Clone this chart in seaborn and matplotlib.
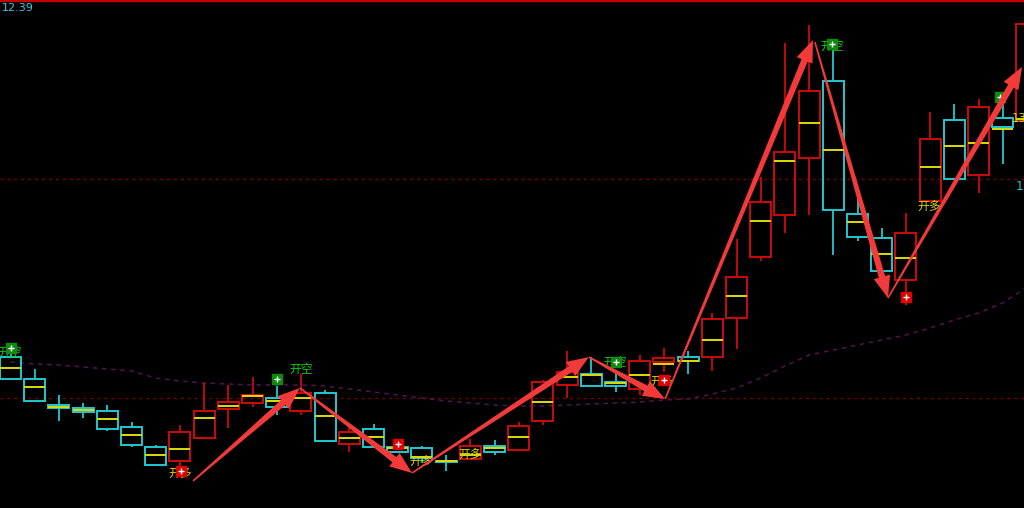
import numpy as np
import pandas as pd
import matplotlib
matplotlib.use("Agg")
import matplotlib.pyplot as plt
from matplotlib.patches import Polygon
from matplotlib.transforms import IdentityTransform
import seaborn as sns

# OHLC, one entry per candle
opens = [11.676, 11.632, 11.579, 11.574, 11.568, 11.536, 11.496, 11.468, 11.514, 11.572,
         11.584, 11.594, 11.568, 11.604, 11.502, 11.532, 11.496, 11.494, 11.469, 11.472,
         11.498, 11.490, 11.548, 11.620, 11.642, 11.626, 11.612, 11.666, 11.676, 11.676,
         11.754, 11.876, 11.960, 12.074, 12.228, 11.962, 11.914, 11.830, 11.988, 12.150,
         12.040, 12.154, 12.150]
closes = [11.632, 11.588, 11.575, 11.566, 11.532, 11.500, 11.460, 11.526, 11.568, 11.586,
          11.600, 11.576, 11.604, 11.508, 11.526, 11.496, 11.486, 11.474, 11.467, 11.498,
          11.486, 11.538, 11.626, 11.646, 11.618, 11.618, 11.668, 11.674, 11.668, 11.752,
          11.836, 11.986, 12.086, 12.208, 11.970, 11.916, 11.848, 11.924, 12.112, 12.032,
          12.176, 12.136, 12.342]
highs = [11.686, 11.652, 11.600, 11.584, 11.580, 11.546, 11.500, 11.540, 11.624, 11.620,
         11.636, 11.618, 11.642, 11.610, 11.534, 11.542, 11.512, 11.498, 11.480, 11.512,
         11.510, 11.546, 11.630, 11.688, 11.676, 11.650, 11.680, 11.694, 11.688, 11.764,
         11.912, 12.036, 12.304, 12.340, 12.290, 11.994, 11.934, 11.964, 12.166, 12.182,
         12.192, 12.196, 12.350]
lows = [11.630, 11.586, 11.548, 11.554, 11.528, 11.496, 11.460, 11.444, 11.512, 11.534,
        11.576, 11.560, 11.560, 11.506, 11.486, 11.496, 11.484, 11.464, 11.448, 11.470,
        11.480, 11.490, 11.540, 11.594, 11.618, 11.606, 11.600, 11.646, 11.642, 11.648,
        11.692, 11.868, 11.924, 11.960, 11.880, 11.908, 11.848, 11.780, 11.988, 12.032,
        12.004, 12.062, 12.140]
mids = [11.654, 11.616, 11.577, 11.570, 11.552, 11.520, 11.480, 11.492, 11.554, 11.578,
        11.598, 11.588, 11.594, 11.558, 11.514, 11.516, 11.494, 11.476, 11.468, 11.480,
        11.494, 11.516, 11.586, 11.636, 11.640, 11.624, 11.640, 11.662, 11.668, 11.710,
        11.798, 11.948, 12.068, 12.144, 12.090, 11.946, 11.882, 11.874, 12.056, 12.098,
        12.104, 12.132, 12.152]
ma = [11.666, 11.662, 11.660, 11.656, 11.652, 11.648, 11.634, 11.628, 11.624, 11.622,
      11.620, 11.620, 11.620, 11.618, 11.612, 11.606, 11.600, 11.594, 11.588, 11.584,
      11.580, 11.578, 11.578, 11.580, 11.582, 11.584, 11.586, 11.590, 11.592, 11.602,
      11.614, 11.634, 11.658, 11.680, 11.690, 11.700, 11.710, 11.720, 11.734, 11.750,
      11.764, 11.784, 11.816]

# horizontal reference levels
levels = [12.032, 11.594]

# signal labels: (candle position, price)
short_x = [-0.02, 12.0, 24.98, 33.95]
short_y = [11.686, 11.652, 11.666, 12.298]
short_mark_x = [0.02, 11.01, 25.0, 33.95, 40.89]
short_mark_y = [11.694, 11.632, 11.666, 12.302, 12.196]
long_x = [7.0, 16.96, 18.99, 26.93, 37.95]
long_y = [11.442, 11.466, 11.480, 11.626, 11.976]
long_mark_x = [7.05, 16.01, 27.0, 37.0]
long_mark_y = [11.448, 11.502, 11.630, 11.796]

# trend arrows drawn on the chart
arrow_x0 = [7.54, 11.96, 16.59, 23.90, 27.05, 33.24, 36.26]
arrow_y0 = [11.428, 11.614, 11.444, 11.676, 11.592, 12.306, 11.794]
arrow_x1 = [11.96, 16.59, 23.90, 27.05, 33.16, 36.26, 41.80]
arrow_y1 = [11.614, 11.444, 11.676, 11.592, 12.310, 11.794, 12.256]

df = pd.DataFrame({'Open': opens, 'Close': closes, 'High': highs, 'Low': lows,
                   'Mid': mids, 'MA': ma})
df['Pos'] = np.arange(len(df))

sns.set_style('dark', {'axes.facecolor': 'black', 'figure.facecolor': 'black'})
plt.rcParams['font.family'] = ['Noto Sans CJK SC', 'DejaVu Sans']

RED = '#cc0a0a'
CYAN = '#22c8d0'
YELLOW = '#dcdc00'

fig = plt.figure(figsize=(10.24, 5.08), dpi=100)
ax = fig.add_axes([0, 0, 1, 1])
ax.set_facecolor('black')
ax.set_xlim(-0.434, 41.88)
ax.set_ylim(11.374, 12.39)
ax.set_xticks([])
ax.set_yticks([])
for s in ax.spines.values():
    s.set_visible(False)

# reference levels + moving average
for lv in levels:
    ax.axhline(lv, color='#7a0000', lw=1, ls=(0, (2, 3)))
sns.lineplot(data=df, x='Pos', y='MA', ax=ax, color='#4e144e', lw=1.1,
             linestyle=(0, (3, 3)), legend=False)
ax.set_xlabel('')
ax.set_ylabel('')

# candles
up = df['Close'] >= df['Open']
colors = [RED if u else CYAN for u in up]
body_top = df[['Open', 'Close']].max(axis=1)
body_bot = df[['Open', 'Close']].min(axis=1)
w = 0.86
ax.bar(df['Pos'], (body_top - body_bot).clip(lower=0.0015), bottom=body_bot, width=w,
       fill=False, edgecolor=colors, linewidth=1.4, zorder=3)
ax.vlines(df['Pos'], body_top, df['High'], colors=colors, lw=1.3, zorder=2)
ax.vlines(df['Pos'], df['Low'], body_bot, colors=colors, lw=1.3, zorder=2)
ax.hlines(df['Mid'], df['Pos'] - w / 2, df['Pos'] + w / 2, colors=YELLOW, lw=1.4, zorder=4)

# signal labels
for x, y in zip(short_x, short_y):
    ax.text(x, y, '开空', color='#10d010', fontsize=8.5, ha='center', va='center', zorder=6)
for x, y in zip(long_x, long_y):
    ax.text(x, y, '开多', color='#d8d800', fontsize=8.5, ha='center', va='center', zorder=6)
ax.scatter(short_mark_x, short_mark_y, marker='s', s=45, color='#0e8a0e', zorder=7)
ax.scatter(short_mark_x, short_mark_y, marker='+', s=14, color='white', lw=1, zorder=8)
ax.scatter(long_mark_x, long_mark_y, marker='s', s=45, color='#e00000', zorder=7)
ax.scatter(long_mark_x, long_mark_y, marker='+', s=14, color='white', lw=1, zorder=8)

# tapered arrows, built in pixel space from the data end points
def draw_arrow(x0, y0, x1, y1):
    p0 = ax.transData.transform((x0, y0))
    p1 = ax.transData.transform((x1, y1))
    d = p1 - p0
    u = d / np.hypot(*d)
    n = np.array([-u[1], u[0]])
    b = p1 - u * 22
    pts = [p0 + n * 0.8, b + n * 3.3, b + n * 8.5, p1, b - n * 8.5, b - n * 3.3, p0 - n * 0.8]
    ax.add_patch(Polygon(pts, closed=True, transform=IdentityTransform(),
                         facecolor='#f23a3a', edgecolor='none', zorder=9))

for a, b_, c, d in zip(arrow_x0, arrow_y0, arrow_x1, arrow_y1):
    draw_arrow(a, b_, c, d)

# frame text
ax.axhline(12.39, color='#c00000', lw=2.5)
fig.text(0.002, 0.984, '12.39', color='#3cc8e6', fontsize=8, ha='left', va='center',
         family='DejaVu Sans')
ax.text(41.35, 12.154, '13', color='#d8d800', fontsize=8.5, ha='left', va='center',
        family='DejaVu Sans', clip_on=True, zorder=10)
ax.text(41.55, 12.016, '1', color='#22c8d0', fontsize=8.5, ha='left', va='center',
        family='DejaVu Sans', clip_on=True, zorder=10)

fig.savefig('out.png', dpi=100, facecolor='black')
